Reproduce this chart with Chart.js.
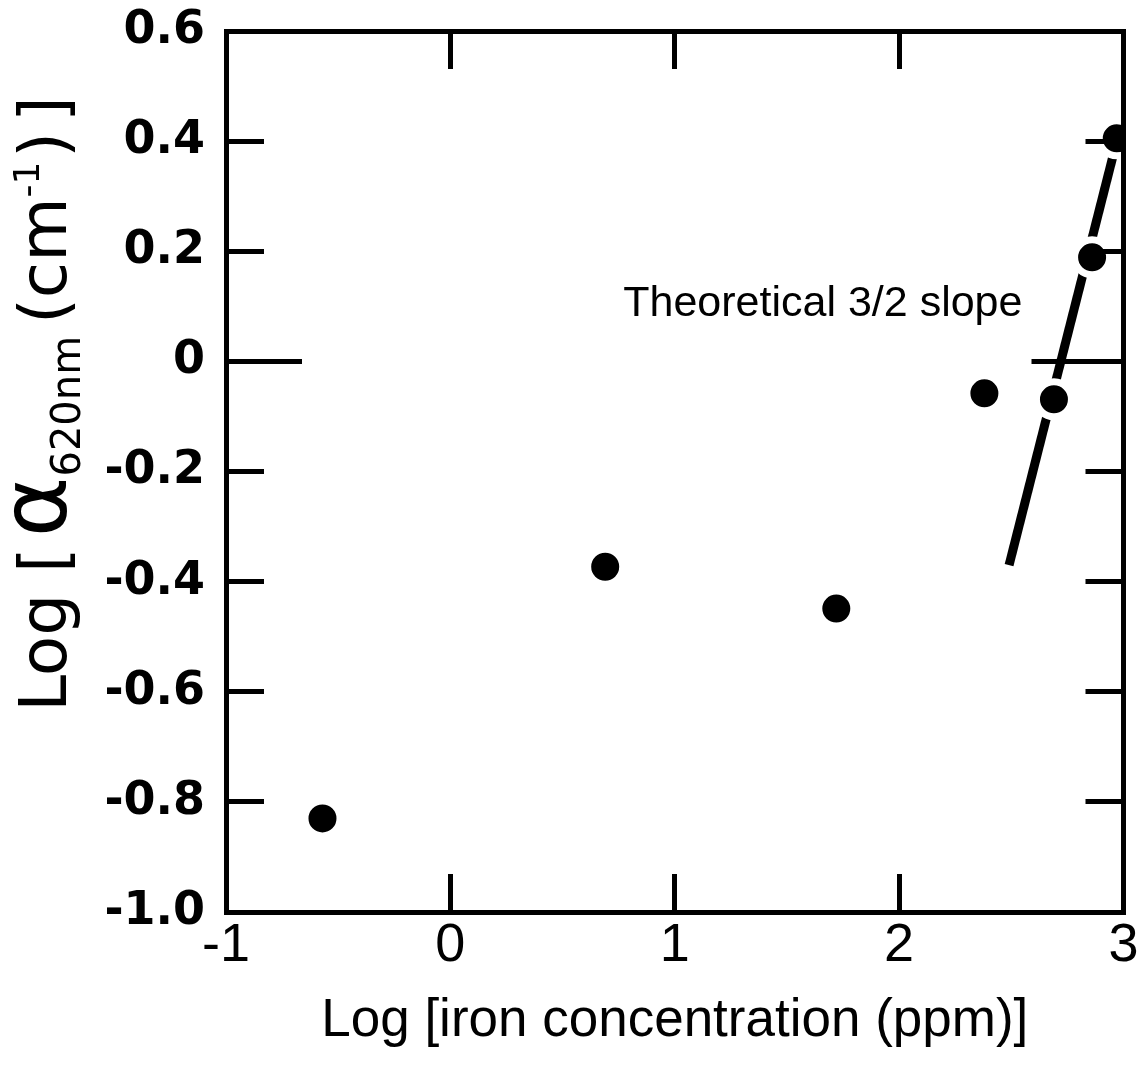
<!DOCTYPE html>
<html>
<head>
<meta charset="utf-8">
<script src="https://cdn.jsdelivr.net/npm/chart.js@4"></script>
<style>
  body { margin: 0; background: #fff; }
  #wrap { width: 1148px; height: 1067px; }
</style>
</head>
<body>
<div id="wrap"><canvas id="ironChart" width="1148" height="1067"></canvas></div>
<script>
// measured points, log10 of iron ppm vs log10 of absorption coefficient
const logIron = [-0.57, 0.69, 1.72, 2.38, 2.69, 2.86, 2.97];
const logAlpha = [-0.83, -0.373, -0.449, -0.058, -0.069, 0.189, 0.405];

// theoretical 3/2 slope line end points
const slopeX = [2.49, 2.97];
const slopeY = [-0.37, 0.40];

const xTickLabels = ['-1', '0', '1', '2', '3'];
const yTickLabels = ['-1.0', '-0.8', '-0.6', '-0.4', '-0.2', '0', '0.2', '0.4', '0.6'];

const xTitle = 'Log [iron concentration (ppm)]';
const yTitleParts = [
    { text: 'Log [', size: 66, dy: 0, gap: 10 },
    { text: 'α', size: 92, dy: 0, gap: 0 },
    { text: '620nm', size: 40, dy: 14, gap: 12 },
    { text: '(cm', size: 66, dy: 0, gap: 0 },
    { text: '-1', size: 36, dy: -27, gap: 4 },
    { text: ')', size: 66, dy: 0, gap: 10 },
    { text: ']', size: 66, dy: 0, gap: 0 }
];
const noteText = 'Theoretical 3/2 slope';

const black = '#000';

// extra drawing: rotated y title with sub/superscript, the note, longer zero ticks
const extras = {
    id: 'extras',
    afterDraw(chart) {
        const ctx = chart.ctx;
        const xs = chart.scales.x, ys = chart.scales.y;
        const area = chart.chartArea;
        ctx.save();
        ctx.fillStyle = black;
        ctx.strokeStyle = black;

        // zero ticks are longer than the others
        const y0 = ys.getPixelForValue(0);
        ctx.lineWidth = 5;
        ctx.beginPath();
        ctx.moveTo(area.left, y0); ctx.lineTo(area.left + 76, y0);
        ctx.moveTo(area.right, y0); ctx.lineTo(area.right - 92, y0);
        ctx.stroke();

        // note
        ctx.font = '43px "Liberation Sans"';
        ctx.textAlign = 'center';
        ctx.textBaseline = 'alphabetic';
        ctx.fillText(noteText, xs.getPixelForValue(1.66), ys.getPixelForValue(0.082));

        // y title
        ctx.translate(66, 404);
        ctx.rotate(-Math.PI / 2);
        ctx.textAlign = 'left';
        let total = 0;
        yTitleParts.forEach(p => {
            ctx.font = p.size + 'px "DejaVu Sans"';
            p.w = ctx.measureText(p.text).width;
            total += p.w + p.gap;
        });
        let x = -total / 2;
        yTitleParts.forEach(p => {
            ctx.font = p.size + 'px "DejaVu Sans"';
            ctx.fillText(p.text, x, p.dy);
            x += p.w + p.gap;
        });
        ctx.restore();
    }
};

function sideGrid() {
    return { drawOnChartArea: false, tickLength: -38, tickWidth: 5, tickColor: black, z: 1 };
}
function sideBorder() {
    return { display: true, width: 5, color: black, z: 1 };
}

const ctx = document.getElementById('ironChart').getContext('2d');
const chart = new Chart(ctx, {
    type: 'scatter',
    data: {
        datasets: [
            {
                label: 'data',
                data: logIron.map((v, i) => ({ x: v, y: logAlpha[i] })),
                pointRadius: 17.5,
                pointBackgroundColor: black,
                pointBorderColor: '#fff',
                pointBorderWidth: 7,
                showLine: false
            },
            {
                label: noteText,
                data: slopeX.map((v, i) => ({ x: v, y: slopeY[i] })),
                showLine: true,
                borderColor: black,
                borderWidth: 9,
                pointRadius: 0
            }
        ]
    },
    options: {
        responsive: false,
        animation: false,
        layout: { padding: 0 },
        plugins: { legend: { display: false }, tooltip: { enabled: false } },
        scales: {
            x: {
                type: 'linear', position: 'bottom', min: -1, max: 3,
                grid: sideGrid(), border: sideBorder(),
                ticks: {
                    stepSize: 1, padding: 40, color: black,
                    font: { family: 'Liberation Sans', size: 54 },
                    callback: (v, i) => xTickLabels[i]
                },
                title: {
                    display: true, text: xTitle, color: black,
                    font: { family: 'Liberation Sans', size: 53 },
                    padding: { top: 0, bottom: 14 }
                },
                afterFit: s => { s.height = 155; s.paddingLeft = 0; s.paddingRight = 0; }
            },
            x2: {
                type: 'linear', position: 'top', min: -1, max: 3,
                grid: sideGrid(), border: sideBorder(),
                ticks: { stepSize: 1, display: false },
                afterFit: s => { s.height = 31; }
            },
            y: {
                type: 'linear', position: 'left', min: -1, max: 0.6,
                grid: sideGrid(), border: sideBorder(),
                ticks: {
                    stepSize: 0.2, padding: 59, color: black,
                    font: { family: 'DejaVu Sans', size: 46, weight: 'bold' },
                    callback: (v, i) => yTickLabels[i]
                },
                afterFit: s => { s.width = 226; s.paddingTop = 0; s.paddingBottom = 0; }
            },
            y2: {
                type: 'linear', position: 'right', min: -1, max: 0.6,
                grid: sideGrid(), border: sideBorder(),
                ticks: { stepSize: 0.2, display: false },
                afterFit: s => { s.width = 21; }
            }
        }
    },
    plugins: [extras]
});
</script>
</body>
</html>
